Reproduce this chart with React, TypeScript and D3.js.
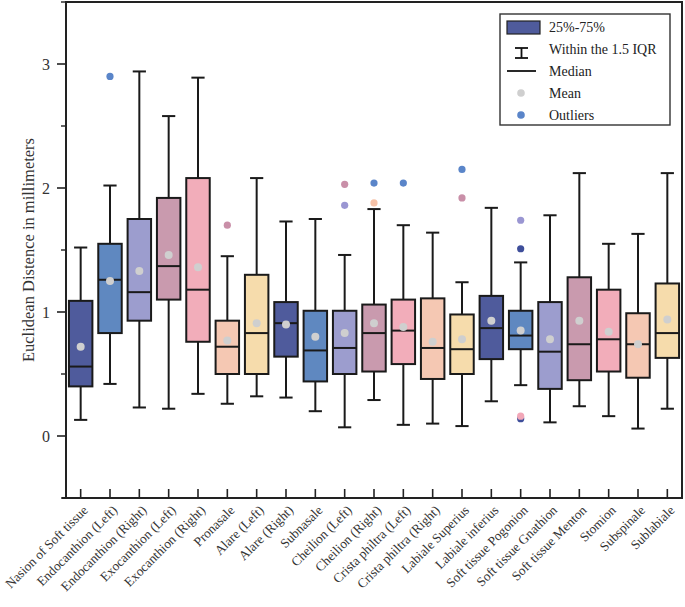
import React from "react";
import * as d3 from "d3";

// Landmark categories along the x axis
const categories = [
  "Nasion of Soft tissue",
  "Endocanthion (Left)",
  "Endocanthion (Right)",
  "Exocanthion (Left)",
  "Exocanthion (Right)",
  "Pronasale",
  "Alare (Left)",
  "Alare (Right)",
  "Subnasale",
  "Cheilion (Left)",
  "Cheilion (Right)",
  "Crista philtra (Left)",
  "Crista philtra (Right)",
  "Labiale Superius",
  "Labiale inferius",
  "Soft tissue Pogonion",
  "Soft tissue Gnathion",
  "Soft tissue Menton",
  "Stomion",
  "Subspinale",
  "Sublabiale",
];

// Box statistics (mm)
const whiskerLow = [0.13, 0.42, 0.23, 0.22, 0.34, 0.26, 0.32, 0.31, 0.2, 0.07, 0.29, 0.09, 0.1, 0.08, 0.28, 0.41, 0.11, 0.24, 0.16, 0.06, 0.22];
const q1 = [0.4, 0.83, 0.93, 1.1, 0.76, 0.5, 0.5, 0.64, 0.44, 0.5, 0.52, 0.58, 0.46, 0.5, 0.62, 0.7, 0.38, 0.45, 0.52, 0.47, 0.63];
const medians = [0.56, 1.26, 1.16, 1.37, 1.18, 0.72, 0.83, 0.91, 0.69, 0.71, 0.83, 0.85, 0.71, 0.7, 0.87, 0.81, 0.68, 0.74, 0.78, 0.74, 0.83];
const q3 = [1.09, 1.55, 1.75, 1.92, 2.08, 0.93, 1.3, 1.08, 1.01, 1.01, 1.06, 1.1, 1.11, 0.98, 1.13, 1.01, 1.08, 1.28, 1.18, 0.99, 1.23];
const whiskerHigh = [1.52, 2.02, 2.94, 2.58, 2.89, 1.45, 2.08, 1.73, 1.75, 1.46, 1.83, 1.7, 1.64, 1.24, 1.84, 1.4, 1.78, 2.12, 1.55, 1.63, 2.12];
const means = [0.72, 1.25, 1.33, 1.46, 1.36, 0.77, 0.91, 0.9, 0.8, 0.83, 0.91, 0.88, 0.76, 0.78, 0.93, 0.85, 0.78, 0.93, 0.84, 0.74, 0.94];

// Outliers: category index, value, palette index
const outlierCat = [1, 5, 9, 9, 10, 10, 11, 13, 13, 15, 15, 15, 15];
const outlierVal = [2.9, 1.7, 2.03, 1.86, 2.04, 1.88, 2.04, 2.15, 1.92, 1.74, 1.51, 0.14, 0.16];
const outlierColor = [1, 3, 3, 2, 1, 5, 1, 1, 3, 2, 0, 0, 4];

const palette = ["#4f5b9c", "#5f88c0", "#9c9dce", "#c99aae", "#f2adba", "#f5c8b3", "#f6dcac"];
const outlierPalette = ["#3e4e9a", "#5a85c9", "#9a96d2", "#c98fa8", "#f2a7b8", "#f6c2a8", "#f2d49c"];

const yTicks = [0, 1, 2, 3];
const yMinor = [-0.5, 0.5, 1.5, 2.5, 3.5];

const legendItems = ["25%-75%", "Within the 1.5 IQR", "Median", "Mean", "Outliers"];

const W = 685;
const H = 607;
const left = 66;
const right = 682;
const top = 2;
const bottom = 498;
const serif = "'Liberation Serif', 'Times New Roman', serif";

export default function App() {
  const x = d3.scaleBand<string>().domain(categories).range([left, right]).padding(0);
  const y = d3.scaleLinear().domain([-0.5, 3.5]).range([bottom, top]);
  const bw = x.bandwidth() * 0.8;
  const capW = x.bandwidth() * 0.45;
  const cx = (i: number) => (x(categories[i]) as number) + x.bandwidth() / 2;

  return (
    <svg width={W} height={H} style={{ position: "absolute", left: 0, top: 0, background: "#fff" }} fontFamily={serif}>
      {/* y ticks */}
      {yTicks.map((t) => (
        <g key={"yt" + t}>
          <line x1={left - 9} x2={left} y1={y(t)} y2={y(t)} stroke="#222" strokeWidth={1.6} />
          <text x={left - 16} y={y(t)} dy="0.35em" textAnchor="end" fontSize={16} fill="#333">
            {t}
          </text>
        </g>
      ))}
      {yMinor.map((t) => (
        <line key={"ym" + t} x1={left - 5} x2={left} y1={y(t)} y2={y(t)} stroke="#222" strokeWidth={1.4} />
      ))}
      <text
        transform={`translate(34, ${(top + bottom) / 2}) rotate(-90)`}
        textAnchor="middle"
        fontSize={16.5}
        fill="#333"
      >
        Euclidean Distence in millimeters
      </text>

      {/* x ticks and labels */}
      {categories.map((c, i) => (
        <g key={"xt" + i}>
          <line x1={cx(i)} x2={cx(i)} y1={bottom} y2={bottom - 9} stroke="#222" strokeWidth={1.6} />
          <text
            transform={`translate(${cx(i) + 8}, ${bottom + 13}) rotate(-45)`}
            textAnchor="end"
            fontSize={13.2}
            fill="#333"
          >
            {c}
          </text>
        </g>
      ))}

      {/* boxes */}
      {categories.map((c, i) => {
        const xc = cx(i);
        const col = palette[i % palette.length];
        return (
          <g key={"b" + i} stroke="#1a1a1a" strokeWidth={2}>
            <line x1={xc} x2={xc} y1={y(whiskerHigh[i])} y2={y(q3[i])} />
            <line x1={xc} x2={xc} y1={y(q1[i])} y2={y(whiskerLow[i])} />
            <line x1={xc - capW / 2} x2={xc + capW / 2} y1={y(whiskerHigh[i])} y2={y(whiskerHigh[i])} />
            <line x1={xc - capW / 2} x2={xc + capW / 2} y1={y(whiskerLow[i])} y2={y(whiskerLow[i])} />
            <rect x={xc - bw / 2} y={y(q3[i])} width={bw} height={y(q1[i]) - y(q3[i])} fill={col} />
            <line x1={xc - bw / 2} x2={xc + bw / 2} y1={y(medians[i])} y2={y(medians[i])} />
            <circle cx={xc} cy={y(means[i])} r={4} fill="#cfcfcf" stroke="none" />
          </g>
        );
      })}

      {/* outliers */}
      {outlierVal.map((v, k) => (
        <circle
          key={"o" + k}
          cx={cx(outlierCat[k])}
          cy={y(v)}
          r={3.6}
          fill={outlierPalette[outlierColor[k]]}
        />
      ))}

      {/* frame */}
      <rect x={left} y={top} width={right - left} height={bottom - top} fill="none" stroke="#222" strokeWidth={2} />
      <line x1={left - 4} x2={right} y1={bottom} y2={bottom} stroke="#222" strokeWidth={2.2} />

      {/* legend */}
      <g>
        <rect x={500} y={14} width={170} height={111} fill="#fff" stroke="#333" strokeWidth={1.4} />
        <rect x={507} y={21} width={33} height={13} fill={palette[0]} stroke="#222" strokeWidth={1.2} />
        <g stroke="#111" strokeWidth={1.8}>
          <line x1={521.5} x2={521.5} y1={48} y2={58} />
          <line x1={515} x2={528} y1={48} y2={48} />
          <line x1={515} x2={528} y1={58} y2={58} />
          <line x1={507} x2={536} y1={71} y2={71} />
        </g>
        <circle cx={521} cy={93} r={3.8} fill="#cfcfcf" />
        <circle cx={521} cy={115} r={3.8} fill="#5a85c9" />
        {legendItems.map((t, k) => (
          <text key={"l" + k} x={549} y={27 + k * 22} dy="0.35em" fontSize={14} fill="#222">
            {t}
          </text>
        ))}
      </g>
    </svg>
  );
}
